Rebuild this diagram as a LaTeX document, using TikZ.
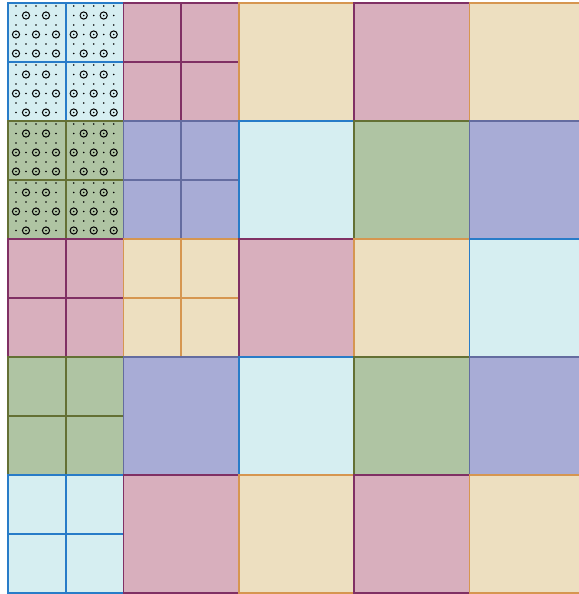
\documentclass[tikz,border=0pt]{standalone}
\usepackage{tikz}
\definecolor{cyfill}{RGB}{214,238,241}
\definecolor{cyline}{RGB}{40,124,200}
\definecolor{pkfill}{RGB}{216,175,189}
\definecolor{pkline}{RGB}{128,48,100}
\definecolor{bgfill}{RGB}{237,223,192}
\definecolor{bgline}{RGB}{214,150,80}
\definecolor{grfill}{RGB}{175,196,163}
\definecolor{grline}{RGB}{100,112,52}
\definecolor{lvfill}{RGB}{168,172,214}
\definecolor{lvline}{RGB}{100,108,160}

\begin{document}
\begin{tikzpicture}[x=0.75pt,y=-0.75pt,line width=1.2pt,
    cy/.style={fill=cyfill,draw=cyline},
    pk/.style={fill=pkfill,draw=pkline},
    bg/.style={fill=bgfill,draw=bgline},
    gr/.style={fill=grfill,draw=grline},
    lv/.style={fill=lvfill,draw=lvline},
    ring/.style={draw=black,line width=0.75pt}]
  \useasboundingbox (0,0) rectangle (579,594);
  \clip (0,0) rectangle (579,594);
  \def\W{115.4}
  \def\H{118}
  % the 5x5 board, some cells split in four
  \foreach \s/\c/\r/\n in {cy/0/0/2, pk/1/0/2, bg/2/0/1, pk/3/0/1, bg/4/0/1,
      gr/0/1/2, lv/1/1/2, cy/2/1/1, gr/3/1/1, lv/4/1/1,
      pk/0/2/2, bg/1/2/2, pk/2/2/1, bg/3/2/1, cy/4/2/1,
      gr/0/3/2, lv/1/3/1, cy/2/3/1, gr/3/3/1, lv/4/3/1,
      cy/0/4/2, pk/1/4/1, bg/2/4/1, pk/3/4/1, bg/4/4/1}
    \foreach \i in {1,...,\n}
      \foreach \j in {1,...,\n}
        \draw[\s] ({8+\c*\W+(\i-1)*\W/\n},{3+\r*\H+(\j-1)*\H/\n})
          rectangle ++({\W/\n},{\H/\n});
  % dots and rings on the two top left cells
  \foreach \r in {0,1}
    \foreach \i/\j/\t in {0/0/1, 1/0/0, 0/1/0, 1/1/1} {
      \pgfmathsetmacro\ox{8+\i*\W/2}
      \pgfmathsetmacro\oy{3+\r*\H+\j*\H/2}
      \foreach \k in {0,...,5}
        \foreach \m in {0,...,4} {
          \pgfmathtruncatemacro\p{\k==1 ? 1 : (\k==3 ? 0 : 1-\t)}
          \pgfmathtruncatemacro\isring{and(mod(\k,2)==1,mod(\m,2)==\p)}
          \ifnum\isring=1
            \draw[ring] ({\ox+8+10*\m},{\oy+3+9.5*\k}) circle (2.7pt);
          \fi
          \fill ({\ox+8+10*\m},{\oy+3+9.5*\k}) circle (0.65pt);
        }
    }
\end{tikzpicture}
\end{document}
